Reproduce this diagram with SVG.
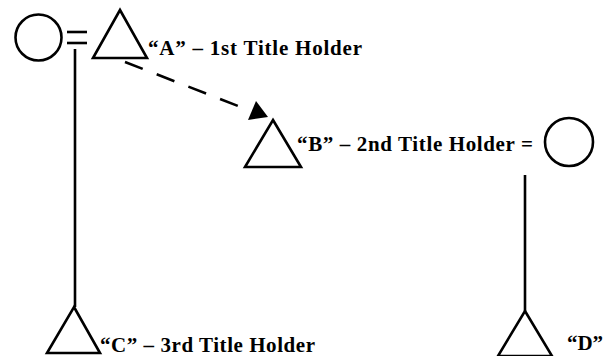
<svg xmlns="http://www.w3.org/2000/svg" width="606" height="356" viewBox="0 0 606 356">
<style>
.sym{fill:none;stroke:#000;stroke-width:2.6;stroke-linejoin:miter}
.ln{fill:none;stroke:#000;stroke-width:2.6}
.lbl{font-family:"Liberation Serif","Times New Roman",serif;font-weight:bold;font-size:21px;fill:#000}
</style>
<rect width="606" height="356" fill="#fff"/>
<g id="connectors">
<line class="ln" x1="67" y1="32" x2="87" y2="32"/>
<line class="ln" x1="67" y1="43" x2="87" y2="43"/>
<line class="ln" x1="75" y1="49" x2="75" y2="307"/>
<line class="ln" x1="525" y1="175" x2="525" y2="311"/>
<line class="ln" x1="125" y1="62" x2="251" y2="111" stroke-dasharray="19 15"/>
<polygon points="268,117 256,101 248,120" fill="#000"/>
</g>
<g id="spouse-a"><circle class="sym" cx="38.5" cy="37.5" r="23"/></g>
<g id="node-a">
<polygon class="sym" points="120,10 147,58 93,58"/>
<text class="lbl" x="148" y="55" textLength="214" lengthAdjust="spacing">“A” – 1st Title Holder</text>
</g>
<g id="node-b">
<polygon class="sym" points="273,120 301,167 245,167"/>
<text class="lbl" x="297" y="151" textLength="236" lengthAdjust="spacing">“B” – 2nd Title Holder =</text>
</g>
<g id="spouse-b"><circle class="sym" cx="569" cy="142" r="24"/></g>
<g id="node-c">
<polygon class="sym" points="74,307 100,353 47,353"/>
<text class="lbl" x="100" y="352" textLength="215" lengthAdjust="spacing">“C” – 3rd Title Holder</text>
</g>
<g id="node-d">
<polygon class="sym" points="525,311 552,356 498,356"/>
<text class="lbl" x="567" y="350" textLength="36" lengthAdjust="spacing">“D”</text>
</g>
</svg>
